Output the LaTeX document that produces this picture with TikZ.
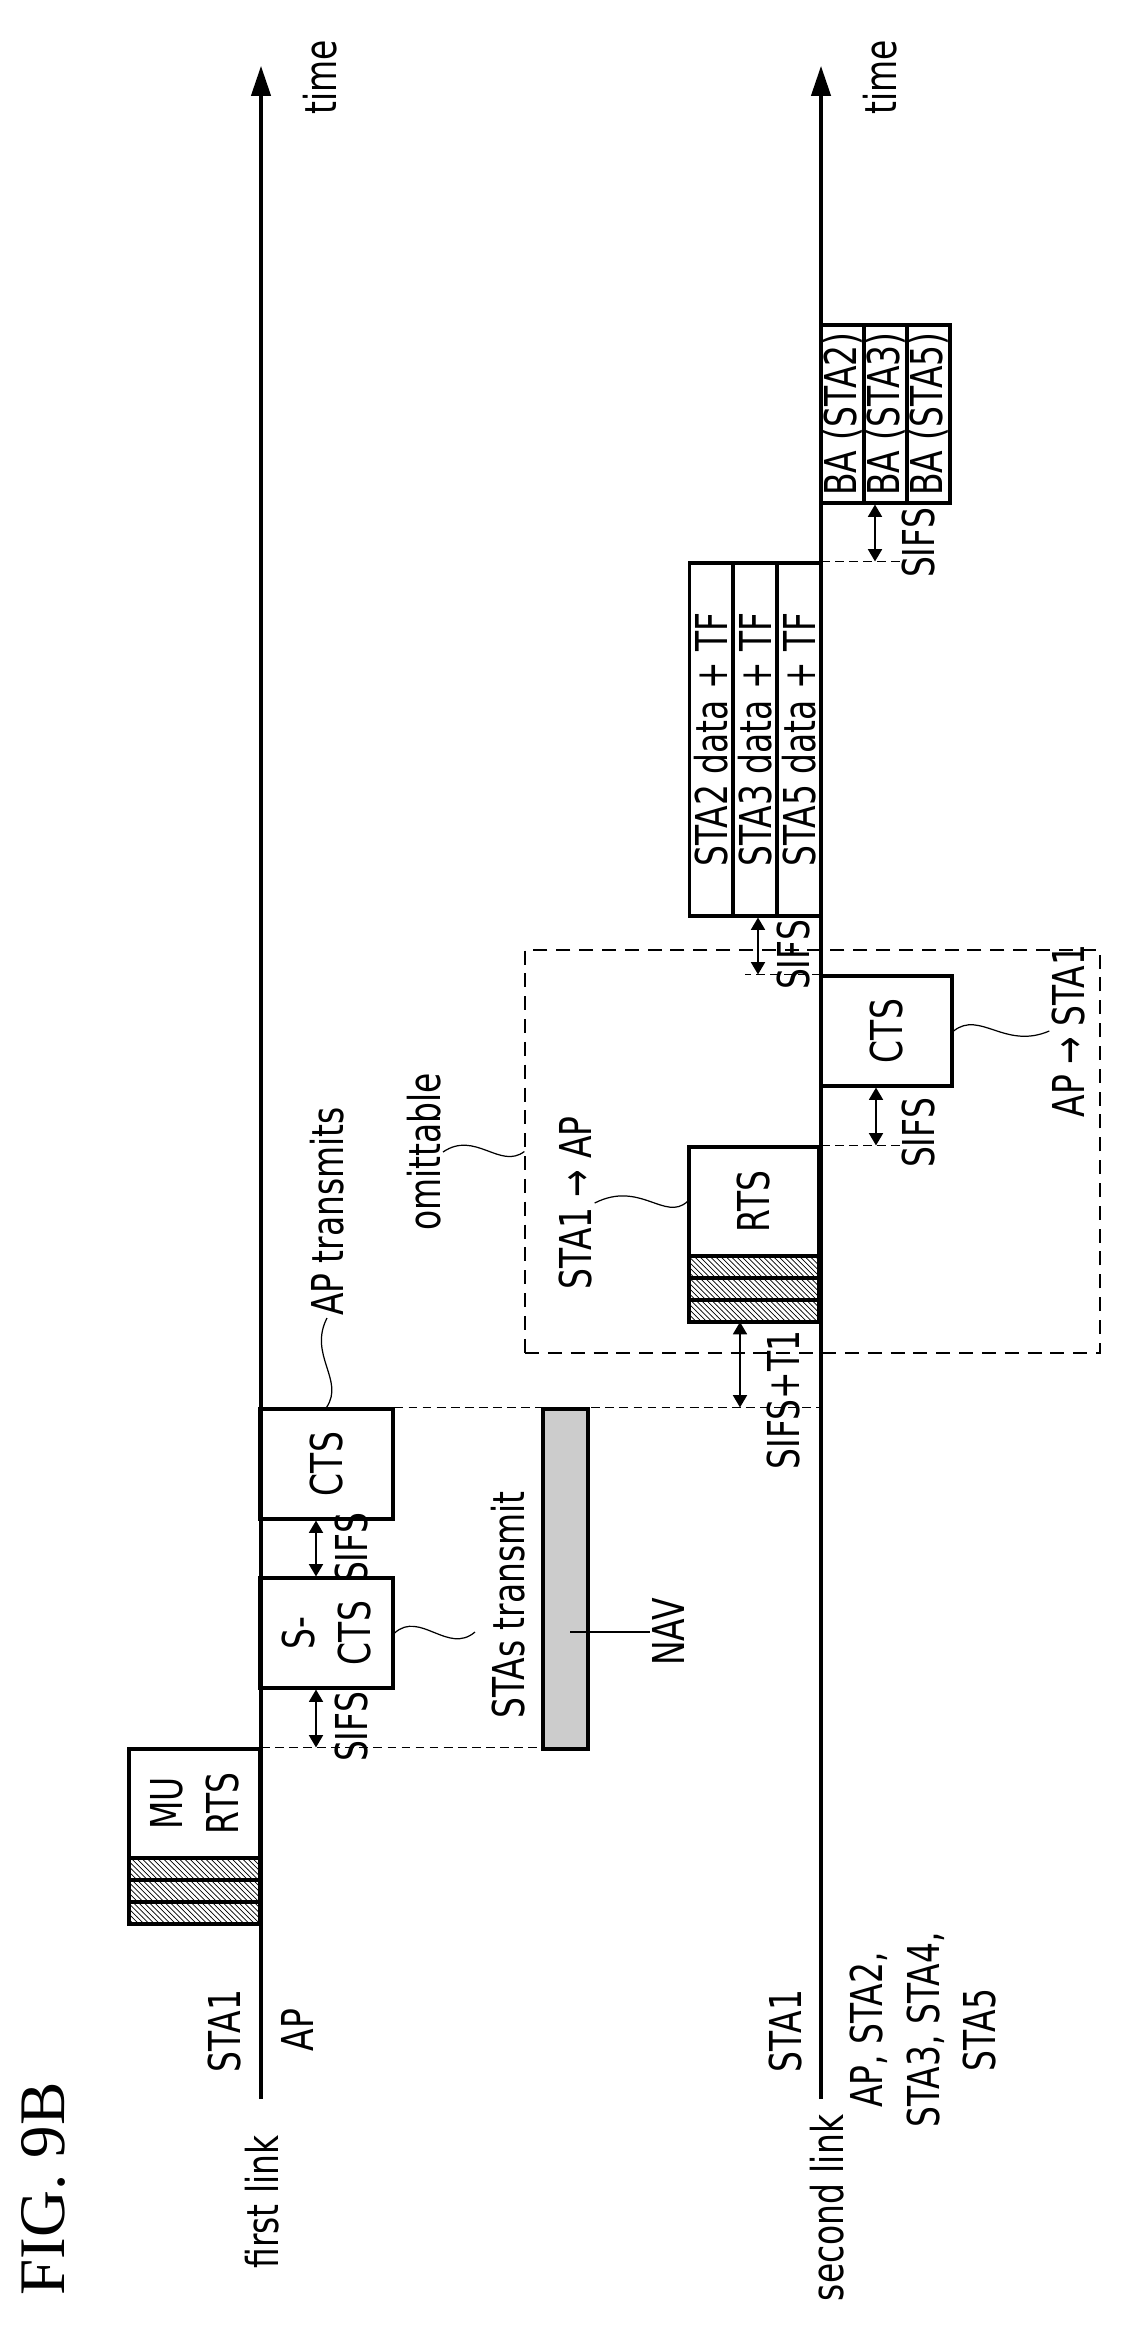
\documentclass[tikz,border=0pt]{standalone}
\usepackage{fontspec}
\setmainfont{DejaVu Sans}[FakeStretch=0.75]
\newfontfamily\figfont{Liberation Serif}
\usepackage{tikz}
\usetikzlibrary{arrows.meta,patterns}

\newcommand{\lbl}{\fontsize{25}{32}\selectfont}

\tikzset{
	frame/.style={draw, line width=1.8pt, rotate=90, inner sep=0pt, align=center, font=\lbl},
	stripe/.style={draw, line width=1.8pt, rotate=90, inner sep=0pt, pattern=north west lines},
	txt/.style={rotate=90, inner sep=1pt, align=center, font=\lbl},
	link/.style={line width=1.8pt, -{Triangle[length=17pt,width=11pt]}},
	gap/.style={line width=0.9pt, {Triangle[length=7pt,width=8pt]}-{Triangle[length=7pt,width=8pt]}},
	guide/.style={line width=0.7pt, dash pattern=on 5pt off 3pt},
	wave/.style={line width=0.7pt}
}

\begin{document}
\begin{tikzpicture}[x=0.02cm, y=-0.02cm]
	\useasboundingbox (0,0) rectangle (1121,2328);

	\node[rotate=90, font=\figfont\fontsize{37}{40}\selectfont] (fig) at (43,2189) {FIG. 9B};

	% first link
	\coordinate (l1) at (261,2099);
	\coordinate (l1t) at (261,66);
	\draw[link] (l1) -- (l1t);
	\node[txt] (time1) at (320,77) {time};
	\node[txt] (sta1a) at (225,2031) {STA1};
	\node[txt] (ap1) at (297,2030) {AP};
	\node[txt] (link1) at (262,2202) {first link};

	\node[frame, minimum width=2.18cm, minimum height=2.62cm] (murts) at (194.5,1803.5) {MU\\RTS};
	\foreach \y in {1869,1891,1913}
		\node[stripe, minimum width=0.44cm, minimum height=2.62cm] at (194.5,\y) {};
	\node[frame, minimum width=2.2cm, minimum height=2.66cm] (scts) at (326.5,1633) {S-\\CTS};
	\node[frame, minimum width=2.2cm, minimum height=2.66cm] (cts1) at (326.5,1464) {CTS};
	\node[frame, fill=gray!40, minimum width=6.8cm, minimum height=0.9cm] (nav) at (565.5,1579) {};

	\coordinate (s1) at (316,0);
	\draw[gap] (murts.east -| s1) -- (scts.west -| s1);
	\draw[gap] (scts.east -| s1) -- (cts1.west -| s1);
	\node[txt] (sifs1) at (352,1727) {SIFS};
	\node[txt] (sifs2) at (352,1548) {SIFS};
	\draw[guide] (murts.east -| l1) -- (nav.north |- murts.east);

	\node[txt, anchor=west] (aptx) at (327,1318) {AP transmits};
	\draw[wave] (cts1.east) .. controls (345,1380) and (308,1355) .. (aptx.west);
	\node[txt] (stas) at (508,1605) {STAs transmit};
	\draw[wave] (scts.south) .. controls (420,1610) and (448,1655) .. (475,1632);
	\node[txt] (navl) at (668,1632) {NAV};
	\draw[line width=0.9pt] (570,1632) -- (navl.north);

	% second link
	\coordinate (l2) at (821,2099);
	\coordinate (l2t) at (821,66);
	\draw[link] (l2) -- (l2t);
	\node[txt] (time2) at (880,77) {time};
	\node[txt] (sta1b) at (785,2031) {STA1};
	\node[txt] (aps) at (923,2030) {AP, STA2,\\STA3, STA4,\\STA5};
	\node[txt] (link2) at (827,2208) {second link};

	\draw[guide] (cts1.south |- cts1.east) -- (cts1.east -| l2);

	\node[draw, line width=0.8pt, dash pattern=on 8pt off 5pt, minimum width=11.5cm, minimum height=8.06cm, inner sep=0pt] (omit) at (812.5,1151.5) {};
	\node[txt, anchor=south] (omitl) at (443,1152) {omittable};
	\draw[wave] (omit.west) .. controls (500,1170) and (475,1130) .. (omitl.south);

	\node[frame, minimum width=2.18cm, minimum height=2.6cm] (rts) at (754,1201.5) {RTS};
	\foreach \y in {1267,1289,1311}
		\node[stripe, minimum width=0.44cm, minimum height=2.6cm] at (754,\y) {};
	\node[txt] (dir1) at (576,1203) {STA1 → AP};
	\draw[wave] (rts.north) .. controls (665,1222) and (640,1180) .. (dir1.south);

	\coordinate (s3) at (740,0);
	\draw[gap] (cts1.east -| s3) -- (s3 |- 0,1322);
	\node[txt] (sifst) at (783,1400) {SIFS+T1};

	\node[frame, minimum width=2.2cm, minimum height=2.62cm] (cts2) at (886.5,1031) {CTS};
	\node[txt] (dir2) at (1068,1031) {AP → STA1};
	\draw[wave] (cts2.south) .. controls (980,1010) and (1005,1050) .. (dir2.north);

	\coordinate (s4) at (876,0);
	\draw[gap] (rts.east -| s4) -- (cts2.west -| s4);
	\draw[guide] (rts.east -| l2) -- ++(80,0);
	\node[txt] (sifs3) at (918,1133) {SIFS};

	\node[frame, minimum width=7.06cm, minimum height=0.87cm] (data1) at (711.5,739.5) {STA2 data + TF};
	\node[frame, minimum width=7.06cm, minimum height=0.88cm] (data2) at (755,739.5) {STA3 data + TF};
	\node[frame, minimum width=7.06cm, minimum height=0.88cm] (data3) at (799,739.5) {STA5 data + TF};

	\coordinate (s5) at (758,0);
	\draw[gap] (data3.west -| s5) -- (cts2.east -| s5);
	\draw[guide] (cts2.east -| l2) -- ++(-76,0);
	\node[txt] (sifs4) at (793,955) {SIFS};

	\node[frame, minimum width=3.56cm, minimum height=0.86cm] (ba1) at (842.5,414) {BA (STA2)};
	\node[frame, minimum width=3.56cm, minimum height=0.86cm] (ba2) at (885.5,414) {BA (STA3)};
	\node[frame, minimum width=3.56cm, minimum height=0.86cm] (ba3) at (928.5,414) {BA (STA5)};

	\coordinate (s6) at (875,0);
	\draw[gap] (data3.east -| s6) -- (ba2.west -| s6);
	\draw[guide] (data3.east -| l2) -- ++(80,0);
	\node[txt] (sifs5) at (918,543) {SIFS};
\end{tikzpicture}
\end{document}
